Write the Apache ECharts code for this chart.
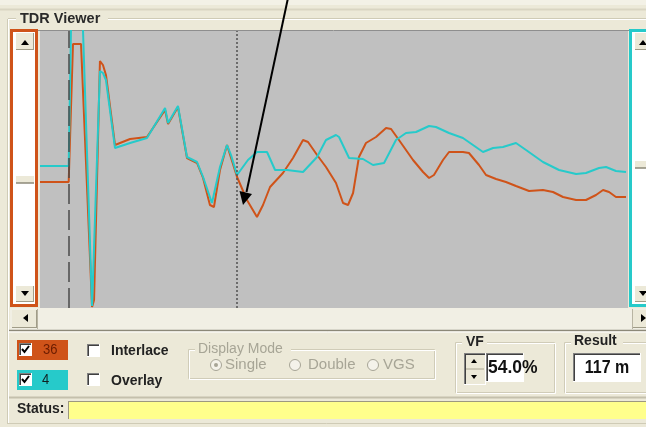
<!DOCTYPE html>
<html>
<head>
<meta charset="utf-8">
<title>TDR Viewer</title>
<script src="https://cdn.jsdelivr.net/npm/echarts/dist/echarts.min.js"></script>
<style>
  html, body { margin: 0; padding: 0; background: #ECE9D8; }
  #chart { width: 646px; height: 427px; }
</style>
</head>
<body>
<div id="chart"></div>
<script>
// Trace "36": distance along the cable (m) and reflected level (arbitrary units)
const dist36 = [-20, 0, 3.0, 8.6, 16.3, 17.7, 21.8, 23.9, 26.0, 32.3, 42.8, 54.6, 67.2, 69.3, 76.2, 82.5, 89.5, 93.7, 98.5, 101.3,
  105.5, 110.4, 117.4, 124.3, 131.3, 135.5, 140.4, 149.4, 156.4, 163.4, 166.9, 173.2, 179.4, 186.4, 191.3, 194.8, 198.3, 202.4,
  207.3, 214.3, 221.3, 224.8, 230.3, 240.1, 247.1, 251.3, 254.7, 261.0, 265.2, 274.9, 279.1, 286.1, 291.0, 298.0, 304.9, 311.9,
  321.0, 330.7, 337.7, 344.7, 353.8, 360.7, 367.7, 372.6, 376.8, 381.6, 388.6];
const level36 = [126, 126, 264, 264, 1, 8, 247, 243, 233, 163, 169, 171, 198, 184, 201, 150, 145, 130, 103, 101,
  138, 163, 131, 108, 91, 103, 121, 135, 150, 168, 166, 153, 141, 125, 105, 103, 115, 151,
  165, 171, 180, 179, 168, 148, 136, 130, 133, 148, 156, 156, 155, 143, 133, 129, 126, 122,
  117, 118, 116, 111, 108, 108, 113, 118, 116, 111, 111];

// Trace "4"
const dist4 = [-20, 0, 2.3, 8.6, 16.3, 17.0, 21.8, 23.9, 26.0, 32.3, 42.8, 54.6, 67.2, 69.3, 76.2, 82.5, 89.5, 93.7, 99.9,
  105.5, 110.4, 113.2, 117.4, 125.0, 131.3, 138.3, 143.9, 152.2, 163.4, 173.2, 179.4, 186.4, 188.5, 195.5, 205.2, 212.2,
  219.9, 228.2, 235.2, 242.2, 251.3, 256.1, 265.2, 274.9, 281.9, 288.9, 295.9, 302.8, 311.9, 318.9, 330.7, 341.9, 353.8,
  360.7, 369.8, 374.7, 381.6, 388.6];
const level4 = [142, 142, 338, 338, 2, 2, 237, 235, 228, 160, 165, 170, 200, 185, 202, 151, 146, 131, 105,
  141, 163, 153, 133, 148, 156, 156, 138, 138, 136, 151, 168, 173, 171, 150, 149, 143,
  145, 168, 175, 176, 182, 181, 175, 170, 163, 156, 160, 161, 165, 158, 146, 138, 134,
  135, 140, 141, 137, 136];

// Cable start and cursor position (m), velocity factor (%)
const cableStart = 0;
const cursorDistance = 117;
const velocityFactor = 54.0;
const channelNames = ['36', '4'];

const ORANGE = '#CF5319';
const CYAN = '#26CACA';
const FACE = '#ECE9D8';
const SHADOW = '#A09C88';
const FONT = '"Liberation Sans", Arial, sans-serif';

const pairs = (xs, ys) => xs.map((x, i) => [x, ys[i]]);

// ---- window chrome helpers ----
const rect = (x, y, w, h, fill, stroke, lw) => ({
  type: 'rect', shape: { x, y, width: w, height: h },
  style: { fill: fill || 'none', stroke: stroke || null, lineWidth: lw || 0 }, silent: true
});
const line = (x1, y1, x2, y2, stroke, lw, dash) => ({
  type: 'line', shape: { x1, y1, x2, y2 },
  style: { stroke, lineWidth: lw || 1, lineDash: dash || null }, silent: true
});
const tri = (pts, fill) => ({ type: 'polygon', shape: { points: pts }, style: { fill: fill || '#000' }, silent: true });
const text = (t, x, y, font, fill, align, sy) => ({
  type: 'text', x, y, scaleY: sy || 1, silent: true,
  style: { text: t, font, fill: fill || '#000', textAlign: align || 'left', textVerticalAlign: 'middle' }
});
const sunken = (x, y, w, h, fill) => [
  rect(x, y, w, h, fill),
  line(x, y + 0.5, x + w, y + 0.5, '#808080'),
  line(x + 0.5, y, x + 0.5, y + h, '#808080'),
  line(x + 1, y + 1.5, x + w - 1, y + 1.5, '#404040'),
  line(x + 1.5, y + 1, x + 1.5, y + h - 1, '#404040'),
  line(x, y + h - 0.5, x + w, y + h - 0.5, '#FFFFFF'),
  line(x + w - 0.5, y, x + w - 0.5, y + h, '#FFFFFF')
];
const etchedBox = (x, y, w, h) => [
  rect(x + 0.5, y + 0.5, w, h, null, '#D0CCB8', 1),
  rect(x + 1.5, y + 1.5, w, h, null, '#FFFFFF', 1)
];
const checkMark = (x, y) => ({
  type: 'polyline', shape: { points: [[x + 3, y + 6], [x + 5.5, y + 9], [x + 10, y + 3]] },
  style: { stroke: '#000', lineWidth: 2, fill: 'none' }, silent: true
});
const radio = (cx, cy, on, col) => {
  const r = [{ type: 'circle', shape: { cx, cy, r: 5.5 }, style: { fill: '#F4F2EA', stroke: col, lineWidth: 1 }, silent: true }];
  if (on) r.push({ type: 'circle', shape: { cx, cy, r: 2 }, style: { fill: col }, silent: true });
  return r;
};
const scrollButton = (x, y, w, h) => [
  rect(x, y, w, h, FACE),
  line(x, y + h - 0.5, x + w, y + h - 0.5, SHADOW),
  line(x + w - 0.5, y, x + w - 0.5, y + h, SHADOW)
];

// ---- layout of the viewer window ----
const chrome = [];
// title strip and group frame
chrome.push(rect(0, 0, 646, 5, '#F3F1E6'));
chrome.push(line(0, 9.5, 646, 9.5, '#D9D5C2', 2));
chrome.push(line(8, 18.5, 646, 18.5, '#CFCBB6'));
chrome.push(line(8, 19.5, 646, 19.5, '#FFFFFF'));
chrome.push(line(7.5, 19, 7.5, 423, '#CFCBB6'));
chrome.push(line(8.5, 20, 8.5, 423, '#FFFFFF'));
chrome.push(line(7, 423.5, 646, 423.5, '#CFCBB6'));
chrome.push(rect(16, 11, 92, 15, FACE));
chrome.push(text('TDR Viewer', 20, 19, 'bold 14.5px ' + FONT, '#2A2A2A', 'left', 1.05));
// plot top edge
chrome.push(line(38, 30.5, 629, 30.5, '#8E8E8E', 1));

// left vertical scroll (channel 36)
chrome.push(rect(11.5, 30.5, 25, 275, '#FFFFFF', ORANGE, 3));
chrome.push(...scrollButton(16, 33, 18, 17));
chrome.push(tri([[21, 45], [29, 45], [25, 40]]));
chrome.push(...scrollButton(16, 286, 18, 16));
chrome.push(tri([[21, 291], [29, 291], [25, 296]]));
chrome.push(rect(16, 176, 18, 7, FACE));
chrome.push(line(16, 183, 34, 183, '#8C8878', 1.5));

// right vertical scroll (channel 4)
chrome.push(rect(630.5, 30.5, 20, 275, '#FFFFFF', CYAN, 3));
chrome.push(...scrollButton(635, 33, 14, 17));
chrome.push(tri([[639, 45], [647, 45], [643, 40]]));
chrome.push(...scrollButton(635, 286, 14, 16));
chrome.push(tri([[639, 291], [647, 291], [643, 296]]));
chrome.push(rect(635, 161, 14, 7, FACE));
chrome.push(line(635, 168, 649, 168, '#8C8878', 1.5));

// horizontal scroll
chrome.push(rect(10, 308, 636, 22, '#F1EFE4'));
chrome.push(...scrollButton(12, 310, 25, 18));
chrome.push(tri([[28, 314], [28, 322], [23, 318]]));
chrome.push(line(37.5, 309, 37.5, 329, '#B8B4A2'));
chrome.push(...scrollButton(633, 310, 14, 18));
chrome.push(tri([[641, 314], [641, 322], [646, 318]]));
chrome.push(line(632.5, 309, 632.5, 329, '#B8B4A2'));
chrome.push(line(9, 330.5, 646, 330.5, '#8C8878', 1.5));
chrome.push(line(9, 332, 646, 332, '#FFFFFF'));

// channel selectors
chrome.push(rect(17, 340, 51, 20, ORANGE));
chrome.push(...sunken(19, 343, 13, 13, '#FFFFFF'));
chrome.push(checkMark(19, 343));
chrome.push(text(channelNames[0], 43, 350.5, '13px ' + FONT, '#6A1C00', 'left', 1.1));
chrome.push(rect(17, 370, 51, 20, CYAN));
chrome.push(...sunken(19, 373, 13, 13, '#FFFFFF'));
chrome.push(checkMark(19, 373));
chrome.push(text(channelNames[1], 42, 380.5, '13px ' + FONT, '#102020', 'left', 1.1));

// option checkboxes
chrome.push(...sunken(87, 344, 13, 13, '#FFFFFF'));
chrome.push(text('Interlace', 111, 351, 'bold 14px ' + FONT, '#222', 'left', 1.1));
chrome.push(...sunken(87, 373, 13, 13, '#FFFFFF'));
chrome.push(text('Overlay', 111, 381, 'bold 14px ' + FONT, '#222', 'left', 1.1));

// display mode (disabled)
const DIS = '#A7A596';
chrome.push(...etchedBox(188, 349, 246, 29));
chrome.push(rect(195, 341, 96, 14, FACE));
chrome.push(text('Display Mode', 198, 348.5, '14px ' + FONT, DIS, 'left', 1.05));
chrome.push(...radio(216, 365, true, DIS));
chrome.push(text('Single', 225, 365, '15px ' + FONT, DIS));
chrome.push(...radio(295, 365, false, DIS));
chrome.push(text('Double', 308, 365, '15px ' + FONT, DIS));
chrome.push(...radio(373, 365, false, DIS));
chrome.push(text('VGS', 383, 365, '15px ' + FONT, DIS));

// velocity factor
chrome.push(...etchedBox(455, 342, 99, 50));
chrome.push(rect(462, 335, 25, 14, FACE));
chrome.push(text('VF', 466, 342, 'bold 14px ' + FONT, '#222', 'left', 1.05));
chrome.push(...sunken(464, 353, 22, 32, FACE));
chrome.push(line(466, 369, 484, 369, '#A8A490'));
chrome.push(tri([[471, 363], [477, 363], [474, 359]]));
chrome.push(tri([[471, 375], [477, 375], [474, 379]]));
chrome.push(...sunken(486, 353, 38, 29, '#FFFFFF'));
chrome.push(text(velocityFactor.toFixed(1) + '%', 488, 368, 'bold 17.5px ' + FONT, '#111', 'left', 1.1));

// result
chrome.push(...etchedBox(564, 342, 90, 50));
chrome.push(rect(571, 335, 52, 14, FACE));
chrome.push(text('Result', 574, 341, 'bold 14px ' + FONT, '#222', 'left', 1.05));
chrome.push(...sunken(573, 353, 68, 29, '#FFFFFF'));
chrome.push(text(cursorDistance + ' m', 607, 368, 'bold 16px ' + FONT, '#111', 'center', 1.1));

// status line
chrome.push(line(9, 397.5, 646, 397.5, '#C4C0AC', 2));
chrome.push(text('Status:', 17, 409, 'bold 14px ' + FONT, '#222', 'left', 1.05));
chrome.push(rect(68, 401, 578, 18, '#FFFF8C'));
chrome.push(line(68, 401.5, 646, 401.5, '#9C9880'));
chrome.push(line(68.5, 401, 68.5, 419, '#9C9880'));

// callout arrow pointing at the cursor
const arrow = [
  { type: 'line', shape: { x1: 288, y1: -2, x2: 246.5, y2: 192 }, style: { stroke: '#000', lineWidth: 2 }, z: 100, silent: true },
  { type: 'polygon', shape: { points: [[243, 205], [239.5, 191], [252, 194]] }, style: { fill: '#000' }, z: 100, silent: true }
];

const chart = echarts.init(document.getElementById('chart'), null, { renderer: 'canvas' });
chart.setOption({
  animation: false,
  backgroundColor: FACE,
  grid: {
    left: 40, right: 18, top: 31, bottom: 119,
    show: true, backgroundColor: '#C0C0C0', borderWidth: 0
  },
  xAxis: { type: 'value', min: -20, max: 390, show: false, splitLine: { show: false } },
  yAxis: { type: 'value', min: 0, max: 277, show: false, splitLine: { show: false } },
  series: [
    {
      name: channelNames[0], type: 'line', data: pairs(dist36, level36),
      showSymbol: false, symbol: 'none', clip: true,
      lineStyle: { color: ORANGE, width: 2 }, z: 2,
      markLine: {
        silent: true, symbol: 'none', label: { show: false },
        data: [
          { xAxis: cableStart, lineStyle: { color: '#4A4A4A', width: 1.5, type: [20, 6] } },
          { xAxis: cursorDistance, lineStyle: { color: '#505050', width: 1.5, type: [2, 2] } }
        ]
      }
    },
    {
      name: channelNames[1], type: 'line', data: pairs(dist4, level4),
      showSymbol: false, symbol: 'none', clip: true,
      lineStyle: { color: CYAN, width: 2 }, z: 3
    }
  ],
  graphic: chrome.concat(arrow)
});
</script>
</body>
</html>
